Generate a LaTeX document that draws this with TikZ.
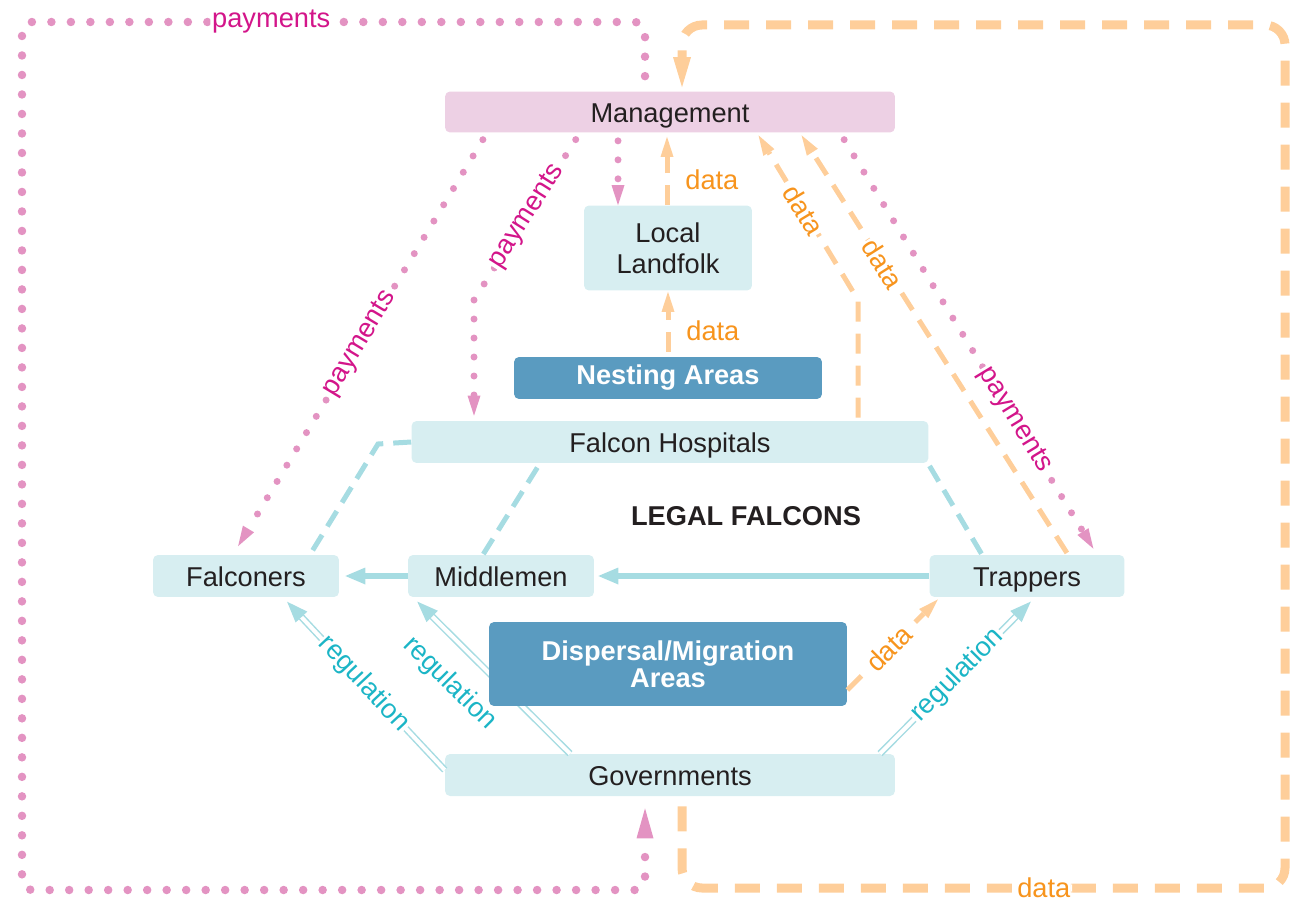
\documentclass[tikz,border=0pt]{standalone}
\usepackage{fontspec}
\setmainfont{Liberation Sans}
\usetikzlibrary{positioning,arrows.meta}
\definecolor{mgmtpink}{HTML}{EDD0E4}
\definecolor{boxcyan}{HTML}{D7EEF1}
\definecolor{areablue}{HTML}{5A9BC0}
\definecolor{textdark}{HTML}{231F20}
\definecolor{dotpink}{HTML}{E393C2}
\definecolor{paytext}{HTML}{D3158A}
\definecolor{dataline}{HTML}{FECE9A}
\definecolor{datatext}{HTML}{F7941D}
\definecolor{regline}{HTML}{A6DCE2}
\definecolor{regtext}{HTML}{1BB5C6}

\begin{document}
\begin{tikzpicture}[x=0.02cm,y=-0.02cm,
  font=\fontsize{15.5}{17.5}\selectfont,
  box/.style={rounded corners=0.1cm, fill=boxcyan, text=textdark, inner sep=0pt, minimum height=0.84cm,
    text height=12.5pt, text depth=1pt},
  area/.style={rounded corners=0.1cm, fill=areablue, text=white, inner sep=0pt, align=center,
    font=\fontsize{15.5}{15.5}\selectfont\bfseries},
  paydots/.style={draw=dotpink, line width=0.14cm, line cap=round, dash pattern=on 0pt off 0.38cm},
  paydotsbig/.style={draw=dotpink, line width=0.17cm, line cap=round, dash pattern=on 0pt off 0.39cm},
  datadash/.style={draw=dataline, line width=0.1cm, dash pattern=on 0.4cm off 0.24cm},
  datadashbig/.style={draw=dataline, line width=0.18cm, dash pattern=on 0.5cm off 0.34cm},
  hospdash/.style={draw=regline, line width=0.1cm, dash pattern=on 0.36cm off 0.2cm},
  flow/.style={draw=regline, line width=0.12cm, -{Triangle[length=0.4cm,width=0.34cm,line width=0pt]}},
  reg/.style={draw=regline, double=white, double distance=0.08cm, line width=0.03cm,
    -{Triangle[length=0.42cm,width=0.32cm,line width=0pt]}},
  paytip/.style={-{Triangle[length=0.4cm,width=0.26cm,line width=0pt]}},
  datatip/.style={-{Triangle[length=0.4cm,width=0.26cm,line width=0pt]}},
  paylabel/.style={text=paytext, fill=white, inner sep=1pt, sloped},
  datalabel/.style={text=datatext, fill=white, inner sep=1pt, sloped},
  reglabel/.style={text=regtext, fill=white, inner sep=1pt, sloped}]
\useasboundingbox (0,0) rectangle (1294,905);

\node[box, fill=mgmtpink, minimum width=9cm, minimum height=0.82cm] (mgmt) at (670,112) {Management};
\node[box, minimum width=3.36cm, minimum height=1.7cm, align=center, text height=, text depth=] (land) at (668,248) {Local\\Landfolk};
\node[area, minimum width=6.16cm, minimum height=0.84cm] (nest) at (668,378) {Nesting Areas};
\node[box, minimum width=10.34cm] (hosp) at (670,442) {Falcon Hospitals};
\node[text=textdark, font=\fontsize{15.5}{17.5}\selectfont\bfseries] (legal) at (746,516) {LEGAL FALCONS};
\node[box, minimum width=3.72cm] (falc) at (246,576) {Falconers};
\node[box, minimum width=3.72cm] (mid) at (501,576) {Middlemen};
\node[box, minimum width=3.9cm] (trap) at (1027,576) {Trappers};
\node[box, minimum width=9cm] (gov) at (670,775) {Governments};

\draw[paydotsbig, rounded corners=0.2cm, -{Triangle[length=0.6cm,width=0.34cm,line width=0pt]}, shorten <=0.3cm, shorten >=0.24cm]
  (mgmt.north -| 645,0) -- (645,22) -- node[paylabel, pos=0.6] {payments} (22,22) -- (22,890) -- (645,890) -- (gov.south -| 645,0);
\draw[datadashbig, rounded corners=0.4cm, -{Triangle[length=0.6cm,width=0.36cm,line width=0pt]}, shorten <=0.2cm, shorten >=0.08cm]
  (gov.south -| 682,0) -- (682,888) -- node[datalabel, pos=0.6] {data} (1285,888) -- (1285,25) -- (682,25) -- (mgmt.north -| 682,0);

\draw[paydots, paytip, shorten <=0.16cm] (mgmt.south -| 618,0) -- (land.north -| 618,0);
\draw[datadash, datatip, shorten >=0.08cm] (land.north -| 667,0) -- node[right=0.2cm, pos=0.35, text=datatext] {data} (mgmt.south -| 667,0);
\draw[datadash, datatip, shorten <=0.1cm, shorten >=0.02cm] (nest.north) -- node[right=0.2cm, pos=0.4, text=datatext] {data} (land.south);

\draw[paydots, paytip, shorten <=0.16cm, shorten >=0.1cm] (mgmt.south -| 580,0) -- node[paylabel, pos=0.5] {payments} (474,300) -- (hosp.north -| 474,0);
\draw[paydots, paytip, shorten <=0.16cm, shorten >=0.2cm] (mgmt.south -| 487,0) -- node[paylabel, pos=0.5] {payments} (falc.north -| 233,0);
\draw[paydots, paytip, shorten <=0.16cm, shorten >=0.14cm] (mgmt.south -| 840,0) -- node[paylabel, pos=0.68] {payments} (trap.north -| 1097,0);

\draw[datadash, datatip, shorten <=0.04cm, shorten >=0.06cm] (trap.north -| 1068,0) -- node[datalabel, pos=0.69] {data} (mgmt.south -| 800,0);
\draw[datadash, datatip, shorten <=0.06cm, shorten >=0.06cm] (hosp.north -| 858,0) -- (858,300) -- node[datalabel, pos=0.54] {data} (mgmt.south -| 757,0);

\draw[hospdash] (hosp.west) -- (378,444) -- (falc.north -| 310,0);
\draw[hospdash, shorten <=0.1cm] (hosp.south -| 540,0) -- (mid.north -| 483,0);
\draw[hospdash, shorten <=0.06cm] (hosp.south -| 928,0) -- (trap.north -| 982,0);

\draw[flow, shorten >=0.12cm] (mid.west) -- (falc.east);
\draw[flow, shorten >=0.08cm] (trap.west) -- (mid.east);

\draw[reg, shorten >=0.12cm] (gov.west |- 0,770) -- node[reglabel, pos=0.5] {regulation} (falc.south -| 283,0);
\draw[reg, shorten >=0.12cm] (gov.north -| 570,0) -- node[reglabel, pos=0.61, below=0.4cm, fill=none] {regulation} (mid.south -| 413,0);
\draw[reg, shorten >=0.12cm] (gov.north -| 880,0) -- node[reglabel, pos=0.5] {regulation} (trap.south -| 1035,0);

\node[area, minimum width=7.16cm, minimum height=1.68cm] (disp) at (668,664) {Dispersal/Migration\\Areas};
\draw[datadash, datatip, shorten >=0.06cm] (disp.east |- 0,690) -- node[datalabel, pos=0.45] {data} (trap.south -| 940,0);
\end{tikzpicture}
\end{document}
